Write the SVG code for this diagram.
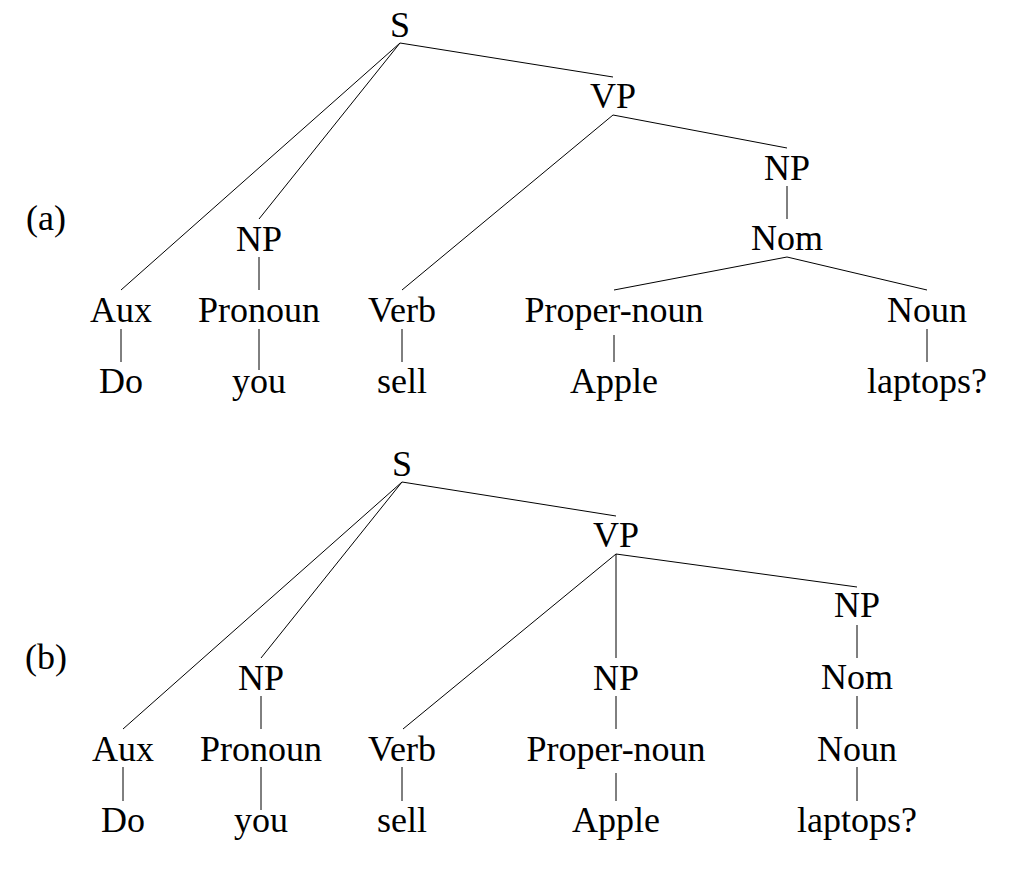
<svg xmlns="http://www.w3.org/2000/svg" width="1013" height="873" viewBox="0 0 1013 873">
<style>
text{font-family:"Liberation Serif","Times New Roman",serif;font-size:36px;fill:#000;text-anchor:middle}
.e line{stroke:#000;stroke-width:1;fill:none}
</style>
<rect width="1013" height="873" fill="#fff"/>
<text x="46" y="230">(a)</text>
<text x="46" y="669">(b)</text>
<g class="e" id="edges-a">
<line x1="400" y1="43" x2="613" y2="77"/>
<line x1="400" y1="43" x2="121" y2="290"/>
<line x1="400" y1="43" x2="259" y2="219"/>
<line x1="259" y1="257" x2="259" y2="290"/>
<line x1="121" y1="329" x2="121" y2="362"/>
<line x1="259" y1="329" x2="259" y2="370"/>
<line x1="402" y1="329" x2="402" y2="362"/>
<line x1="613" y1="115" x2="402" y2="290"/>
<line x1="613" y1="115" x2="787" y2="148"/>
<line x1="787" y1="186" x2="787" y2="219"/>
<line x1="787" y1="257" x2="614" y2="290"/>
<line x1="787" y1="257" x2="927" y2="290"/>
<line x1="614" y1="335" x2="614" y2="362"/>
<line x1="927" y1="329" x2="927" y2="362"/>
</g>
<g id="a-S"><text x="400" y="37">S</text></g>
<g id="a-VP"><text x="613" y="108">VP</text></g>
<g id="a-NP1"><text x="259" y="251">NP</text></g>
<g id="a-NP2"><text x="787" y="180">NP</text></g>
<g id="a-Nom"><text x="787" y="250">Nom</text></g>
<g id="a-Aux"><text x="121" y="322">Aux</text></g>
<g id="a-Pronoun"><text x="259" y="322">Pronoun</text></g>
<g id="a-Verb"><text x="402" y="322">Verb</text></g>
<g id="a-Proper-noun"><text x="614" y="322">Proper-noun</text></g>
<g id="a-Noun"><text x="927" y="322">Noun</text></g>
<g id="a-Do"><text x="121" y="393">Do</text></g>
<g id="a-you"><text x="259" y="393">you</text></g>
<g id="a-sell"><text x="402" y="393">sell</text></g>
<g id="a-Apple"><text x="614" y="393">Apple</text></g>
<g id="a-laptops"><text x="927" y="393">laptops?</text></g>
<g class="e" id="edges-b">
<line x1="402" y1="482" x2="616" y2="516"/>
<line x1="402" y1="482" x2="123" y2="729"/>
<line x1="402" y1="482" x2="261" y2="658"/>
<line x1="261" y1="696" x2="261" y2="729"/>
<line x1="123" y1="767" x2="123" y2="801"/>
<line x1="261" y1="767" x2="261" y2="810"/>
<line x1="402" y1="767" x2="402" y2="801"/>
<line x1="616" y1="554" x2="403" y2="729"/>
<line x1="616" y1="554" x2="616" y2="658"/>
<line x1="616" y1="554" x2="857" y2="587"/>
<line x1="857" y1="625" x2="857" y2="658"/>
<line x1="857" y1="696" x2="857" y2="729"/>
<line x1="857" y1="767" x2="857" y2="801"/>
<line x1="616" y1="696" x2="616" y2="729"/>
<line x1="616" y1="773" x2="616" y2="801"/>
</g>
<g id="b-S"><text x="402" y="476">S</text></g>
<g id="b-VP"><text x="616" y="547">VP</text></g>
<g id="b-NP1"><text x="261" y="690">NP</text></g>
<g id="b-NP2"><text x="616" y="690">NP</text></g>
<g id="b-NP3"><text x="857" y="617">NP</text></g>
<g id="b-Nom"><text x="857" y="689">Nom</text></g>
<g id="b-Aux"><text x="123" y="761">Aux</text></g>
<g id="b-Pronoun"><text x="261" y="761">Pronoun</text></g>
<g id="b-Verb"><text x="402" y="761">Verb</text></g>
<g id="b-Proper-noun"><text x="616" y="761">Proper-noun</text></g>
<g id="b-Noun"><text x="857" y="761">Noun</text></g>
<g id="b-Do"><text x="123" y="832">Do</text></g>
<g id="b-you"><text x="261" y="832">you</text></g>
<g id="b-sell"><text x="402" y="832">sell</text></g>
<g id="b-Apple"><text x="616" y="832">Apple</text></g>
<g id="b-laptops"><text x="857" y="832">laptops?</text></g>
</svg>
